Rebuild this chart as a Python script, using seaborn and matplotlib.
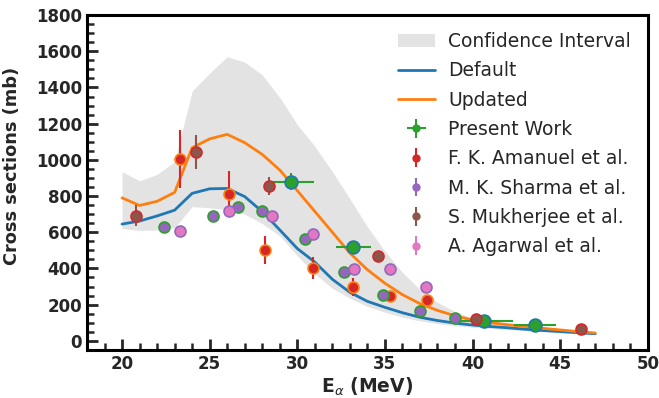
import matplotlib
matplotlib.use("Agg")
import matplotlib.pyplot as plt
import seaborn as sns
import numpy as np
import pandas as pd
from matplotlib.ticker import MultipleLocator

# ---- data ----
energy_grid = list(range(20, 48))
default_xs = [645, 662, 690, 722, 815, 840, 842, 797, 714, 613, 510, 435, 340, 268,
              218, 185, 155, 130, 112, 98, 87, 79, 72, 64, 57, 51, 45, 39]
updated_xs = [790, 748, 771, 820, 1067, 1116, 1141, 1095, 1030, 944, 830, 715, 600, 485,
              393, 318, 255, 205, 168, 138, 115, 100, 89, 79, 69, 60, 51, 43]
ci_upper = [935, 884, 920, 990, 1380, 1480, 1570, 1540, 1470, 1345, 1195, 1075, 935, 785,
            630, 495, 378, 283, 212, 162, 125, 105, 92, 80, 70, 60, 52, 45]
ci_lower = [620, 610, 612, 625, 742, 735, 725, 700, 648, 580, 470, 370, 290, 235,
            190, 158, 130, 110, 95, 84, 75, 68, 62, 56, 50, 44, 39, 34]

present_x = [29.66, 33.19, 40.68, 43.54]
present_y = [880, 521, 107, 88]
present_xerr = [1.3, 1.0, 1.6, 1.2]
present_yerr = [45, 25, 8, 8]

amanuel_x = [23.28, 26.1, 28.16, 30.9, 33.19, 35.29, 37.38]
amanuel_y = [1003, 812, 503, 401, 296, 245, 223]
amanuel_yerr = [161, 127, 78, 60, 49, 28, 30]

sharma_x = [22.38, 25.2, 26.6, 28.0, 30.43, 32.68, 34.91, 37.0, 39.0]
sharma_y = [631, 690, 738, 720, 562, 379, 252, 166, 125]
sharma_yerr = [5, 5, 5, 5, 5, 5, 5, 5, 5]

mukherjee_x = [20.77, 24.21, 28.39, 34.58, 40.18, 46.21]
mukherjee_y = [692, 1042, 856, 470, 118, 64]
mukherjee_yerr = [58, 95, 50, 15, 8, 5]

agarwal_x = [23.3, 26.1, 28.58, 30.92, 33.25, 35.29, 37.35]
agarwal_y = [609, 720, 687, 589, 398, 398, 300]
agarwal_yerr = [5, 5, 5, 5, 5, 5, 5]

sns.set_style("ticks")
plt.rcParams['font.family'] = ['DejaVu Sans']

C = sns.color_palette("tab10")

fig = plt.figure(figsize=(6.59, 3.98), dpi=100)
ax = fig.add_axes([0.132, 0.121, 0.983 - 0.132, 0.962 - 0.121])

curves = pd.DataFrame({"E": energy_grid, "Default": default_xs, "Updated": updated_xs})

ax.fill_between(energy_grid, ci_lower, ci_upper, color="#e0e0e0", alpha=0.9,
                linewidth=0, label="Confidence Interval", zorder=1)
sns.lineplot(data=curves, x="E", y="Default", color=C[0], lw=2, ax=ax,
             label="Default", zorder=2)
sns.lineplot(data=curves, x="E", y="Updated", color=C[1], lw=2, ax=ax,
             label="Updated", zorder=2)

series = [
    ("Present Work", present_x, present_y, present_xerr, present_yerr, C[2], C[0], 85),
    ("F. K. Amanuel et al.", amanuel_x, amanuel_y, None, amanuel_yerr, C[3], C[1], 62),
    ("M. K. Sharma et al.", sharma_x, sharma_y, None, sharma_yerr, C[4], C[2], 62),
    ("S. Mukherjee et al.", mukherjee_x, mukherjee_y, None, mukherjee_yerr, C[5], C[3], 62),
    ("A. Agarwal et al.", agarwal_x, agarwal_y, None, agarwal_yerr, C[6], C[4], 62),
]
for name, xs, ys, xe, ye, fc, ec, s in series:
    ax.errorbar(xs, ys, xerr=xe, yerr=ye, fmt='o', color=fc, ms=5, elinewidth=1.5,
                capsize=0, label=name, zorder=3)
    df = pd.DataFrame({"x": xs, "y": ys})
    sns.scatterplot(data=df, x="x", y="y", color=fc, edgecolor=ec, linewidth=1.2,
                    s=s, ax=ax, zorder=4, legend=False)

ax.set_xlim(18, 50)
ax.set_ylim(-50, 1800)
ax.xaxis.set_major_locator(MultipleLocator(5))
ax.xaxis.set_minor_locator(MultipleLocator(1))
ax.yaxis.set_major_locator(MultipleLocator(200))
ax.yaxis.set_minor_locator(MultipleLocator(50))
ax.tick_params(which='both', direction='in', bottom=True, left=True, top=False, right=False)
ax.tick_params(which='major', length=8, width=2, labelsize=12)
ax.tick_params(which='minor', length=5, width=1.8)
for lab in ax.get_xticklabels() + ax.get_yticklabels():
    lab.set_fontweight('bold')
for sp in ax.spines.values():
    sp.set_linewidth(2.2)
    sp.set_color('black')

ax.set_xlabel(r'E$_\alpha$ (MeV)', fontsize=13.5, fontweight='bold')
ax.xaxis.set_label_coords(0.5, -0.078)
ax.xaxis.label.set_va('top')
ax.set_ylabel('Cross sections (mb)', fontsize=12.8, fontweight='bold')
ax.yaxis.set_label_coords(-0.118, 0.55)

h, l = ax.get_legend_handles_labels()
order = ["Confidence Interval", "Default", "Updated", "Present Work",
         "F. K. Amanuel et al.", "M. K. Sharma et al.", "S. Mukherjee et al.",
         "A. Agarwal et al."]
hd = dict(zip(l, h))
ax.legend([hd[k] for k in order], order, loc='upper right', frameon=False,
          fontsize=13.5, labelspacing=0.55, handletextpad=0.7)

fig.savefig("out.png", dpi=100)
